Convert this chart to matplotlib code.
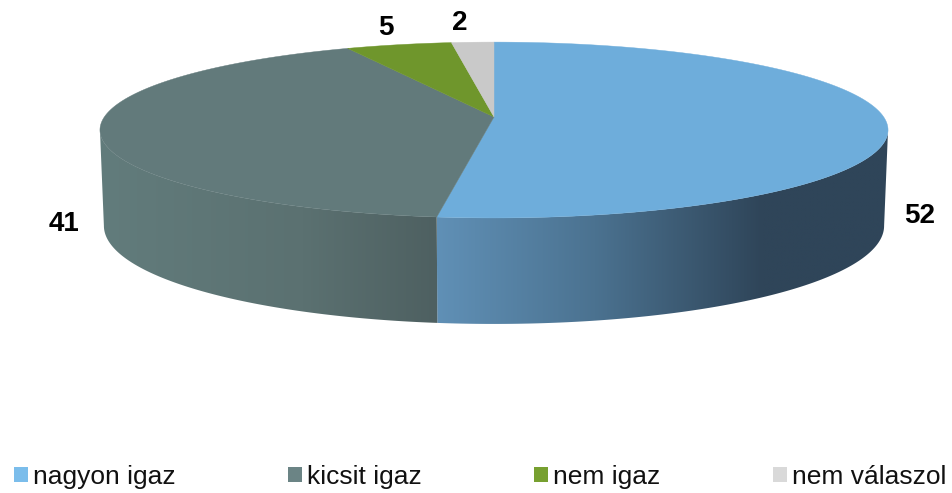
import numpy as np
import matplotlib
matplotlib.use("Agg")
import matplotlib.pyplot as plt
from matplotlib.colors import LinearSegmentedColormap
from matplotlib.patches import Patch, Polygon

categories = ["nagyon igaz", "kicsit igaz", "nem igaz", "nem válaszol"]
values = [52, 41, 5, 2]
top_colors = ["#6EADDB", "#627A7B", "#6F962C", "#C9C9C9"]
legend_colors = ["#7BBDEB", "#6B8485", "#77A030", "#D9D9D9"]

plt.rcParams["font.family"] = ["Liberation Sans", "DejaVu Sans"]
fig = plt.figure(figsize=(9.53, 4.93), dpi=100)
ax = fig.add_axes([0, 0, 1, 1])
ax.set_xlim(0, 953)
ax.set_ylim(493, 0)
ax.axis("off")

CX, CY, AX, AY, K = 494.0, 117.0, 389.7, 86.0, 0.148


def project(theta, drop=0.0):
    """theta in degrees clockwise from the back of the pie."""
    t = np.radians(theta)
    u, v = np.sin(t), -np.cos(t)
    w = 1 - K * v
    return (CX + AX * u / w * (1 - 0.01 * drop),
            CY + AY * v / w + drop * (94 + 12 * v))


edges = np.concatenate([[0], np.cumsum(values)]) * 360.0 / sum(values)
silhouette_r = np.degrees(np.arccos(-K))
silhouette_l = 360 - silhouette_r

side_cmaps = {
    0: LinearSegmentedColormap.from_list(
        "b", [(0, "#6090B6"), (0.35, "#4B7290"), (0.72, "#2F4559"), (1, "#2F4559")]),
    1: LinearSegmentedColormap.from_list(
        "t", [(0, "#627C7C"), (0.6, "#5B7171"), (1, "#4E6061")]),
}
ranges = {0: (silhouette_r, edges[1]), 1: (edges[1], silhouette_l)}
for i, (a, b) in ranges.items():
    th = np.linspace(a, b, 200)
    x0, y0 = project(th)
    x1, y1 = project(th, 1.0)
    poly = Polygon(np.r_[np.c_[x0, y0], np.c_[x1, y1][::-1]], closed=True,
                   fc="none", ec="none", transform=ax.transData)
    ax.add_patch(poly)
    xl, xr = min(x0.min(), x1.min()), max(x0.max(), x1.max())
    g = np.linspace(0, 1, 256).reshape(1, -1)
    im = ax.imshow(g, cmap=side_cmaps[i], extent=(xl, xr, 340, 100), aspect="auto",
                   interpolation="bilinear", zorder=1)
    im.set_clip_path(poly)
ax.set_xlim(0, 953)
ax.set_ylim(493, 0)

for i, c in enumerate(top_colors):
    th = np.linspace(edges[i], edges[i + 1], 200)
    x, y = project(th)
    ax.add_patch(Polygon(np.r_[[[CX, CY]], np.c_[x, y]], closed=True, fc=c,
                         ec=c, lw=0.3, zorder=2))

label_pos = [(920, 216), (64, 224), (386, 28), (460, 23)]
for v, (x, y) in zip(values, label_pos):
    ax.text(x, y, str(v), ha="center", va="center", fontsize=20, fontweight="bold",
            color="black")

handles = [Patch(fc=c, ec="none") for c in legend_colors]
ax.legend(handles, categories, ncol=4, loc="center left",
          bbox_to_anchor=(14, 477), bbox_transform=ax.transData, frameon=False,
          fontsize=19, handlelength=0.53, handleheight=0.53, handletextpad=0.19,
          columnspacing=4.26, borderpad=0, borderaxespad=0, labelcolor="#111111")

fig.savefig("out.png", dpi=100)
